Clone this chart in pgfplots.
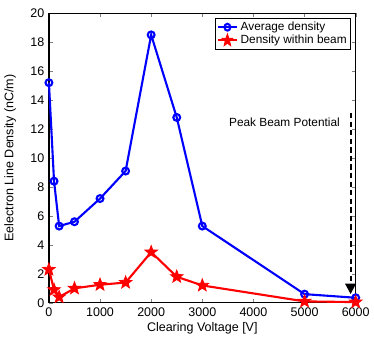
\documentclass[border=0pt]{standalone}
\usepackage{fontspec}
\setmainfont{Liberation Sans}
\usepackage{pgfplots}
\usetikzlibrary{arrows.meta}
\pgfplotsset{compat=1.18}
\pgfdeclareplotmark{pstar}{%
  \pgfpathmoveto{\pgfqpointpolar{90}{\pgfplotmarksize}}%
  \pgfpathlineto{\pgfqpointpolar{126}{0.42\pgfplotmarksize}}%
  \pgfpathlineto{\pgfqpointpolar{162}{\pgfplotmarksize}}%
  \pgfpathlineto{\pgfqpointpolar{198}{0.42\pgfplotmarksize}}%
  \pgfpathlineto{\pgfqpointpolar{234}{\pgfplotmarksize}}%
  \pgfpathlineto{\pgfqpointpolar{270}{0.42\pgfplotmarksize}}%
  \pgfpathlineto{\pgfqpointpolar{306}{\pgfplotmarksize}}%
  \pgfpathlineto{\pgfqpointpolar{342}{0.42\pgfplotmarksize}}%
  \pgfpathlineto{\pgfqpointpolar{18}{\pgfplotmarksize}}%
  \pgfpathlineto{\pgfqpointpolar{54}{0.42\pgfplotmarksize}}%
  \pgfpathclose
  \pgfusepathqfillstroke}
\begin{document}
\begin{tikzpicture}
\begin{axis}[
  scale only axis, width=233pt, height=220pt,
  xmin=0, xmax=6000, ymin=0, ymax=20,
  clip=false,
  xtick={0,1000,...,6000}, ytick={0,2,...,20},
  /pgf/number format/assume math mode=true,
  scaled x ticks=false,
  x tick label style={/pgf/number format/1000 sep={}},
  tick label style={font=\fontsize{9.5}{11}\selectfont},
  label style={font=\fontsize{9.5}{11}\selectfont},
  xlabel={Clearing Voltage [V]},
  ylabel={Eelectron Line Density (nC/m)},
  xlabel style={yshift=2pt},
  ylabel style={yshift=4pt},
  tick align=inside, tick pos=both,
  major tick length=3pt,
  axis line style={line width=0.9pt},
  legend style={at={(0.985,0.985)}, anchor=north east, font=\fontsize{9}{10}\selectfont, draw=black, line width=0.7pt, inner sep=1pt, row sep=-2pt},
  legend image post style={xscale=0.85},
  legend cell align=left,
]
\addplot[blue, line width=1.6pt, mark=o, mark size=2.6pt, mark options={line width=1.6pt}] coordinates {
(0,15.2) (100,8.4) (200,5.3) (500,5.6) (1000,7.2) (1500,9.1) (2000,18.5) (2500,12.8) (3000,5.3) (5000,0.6) (6000,0.35)};
\addlegendentry{Average density}
\addplot[red, line width=1.6pt, mark=pstar, mark size=5pt, mark options={line width=0.6pt, fill=red}] coordinates {
(0,2.3) (100,0.9) (200,0.4) (500,1.0) (1000,1.25) (1500,1.4) (2000,3.5) (2500,1.8) (3000,1.2) (5000,0.1) (6000,0.05)};
\addlegendentry{Density within beam}
\draw[black, line width=1.6pt, dash pattern=on 4pt off 2.5pt, -{Triangle[length=8pt,width=8pt]}] (axis cs:5900,13.1) -- (axis cs:5900,0.6);
\node[anchor=east, font=\fontsize{9}{11}\selectfont] at (axis cs:5780,12.5) {Peak Beam Potential};
\path (rel axis cs:0,1) -- ++(0,10pt);
\end{axis}
\end{tikzpicture}
\end{document}
